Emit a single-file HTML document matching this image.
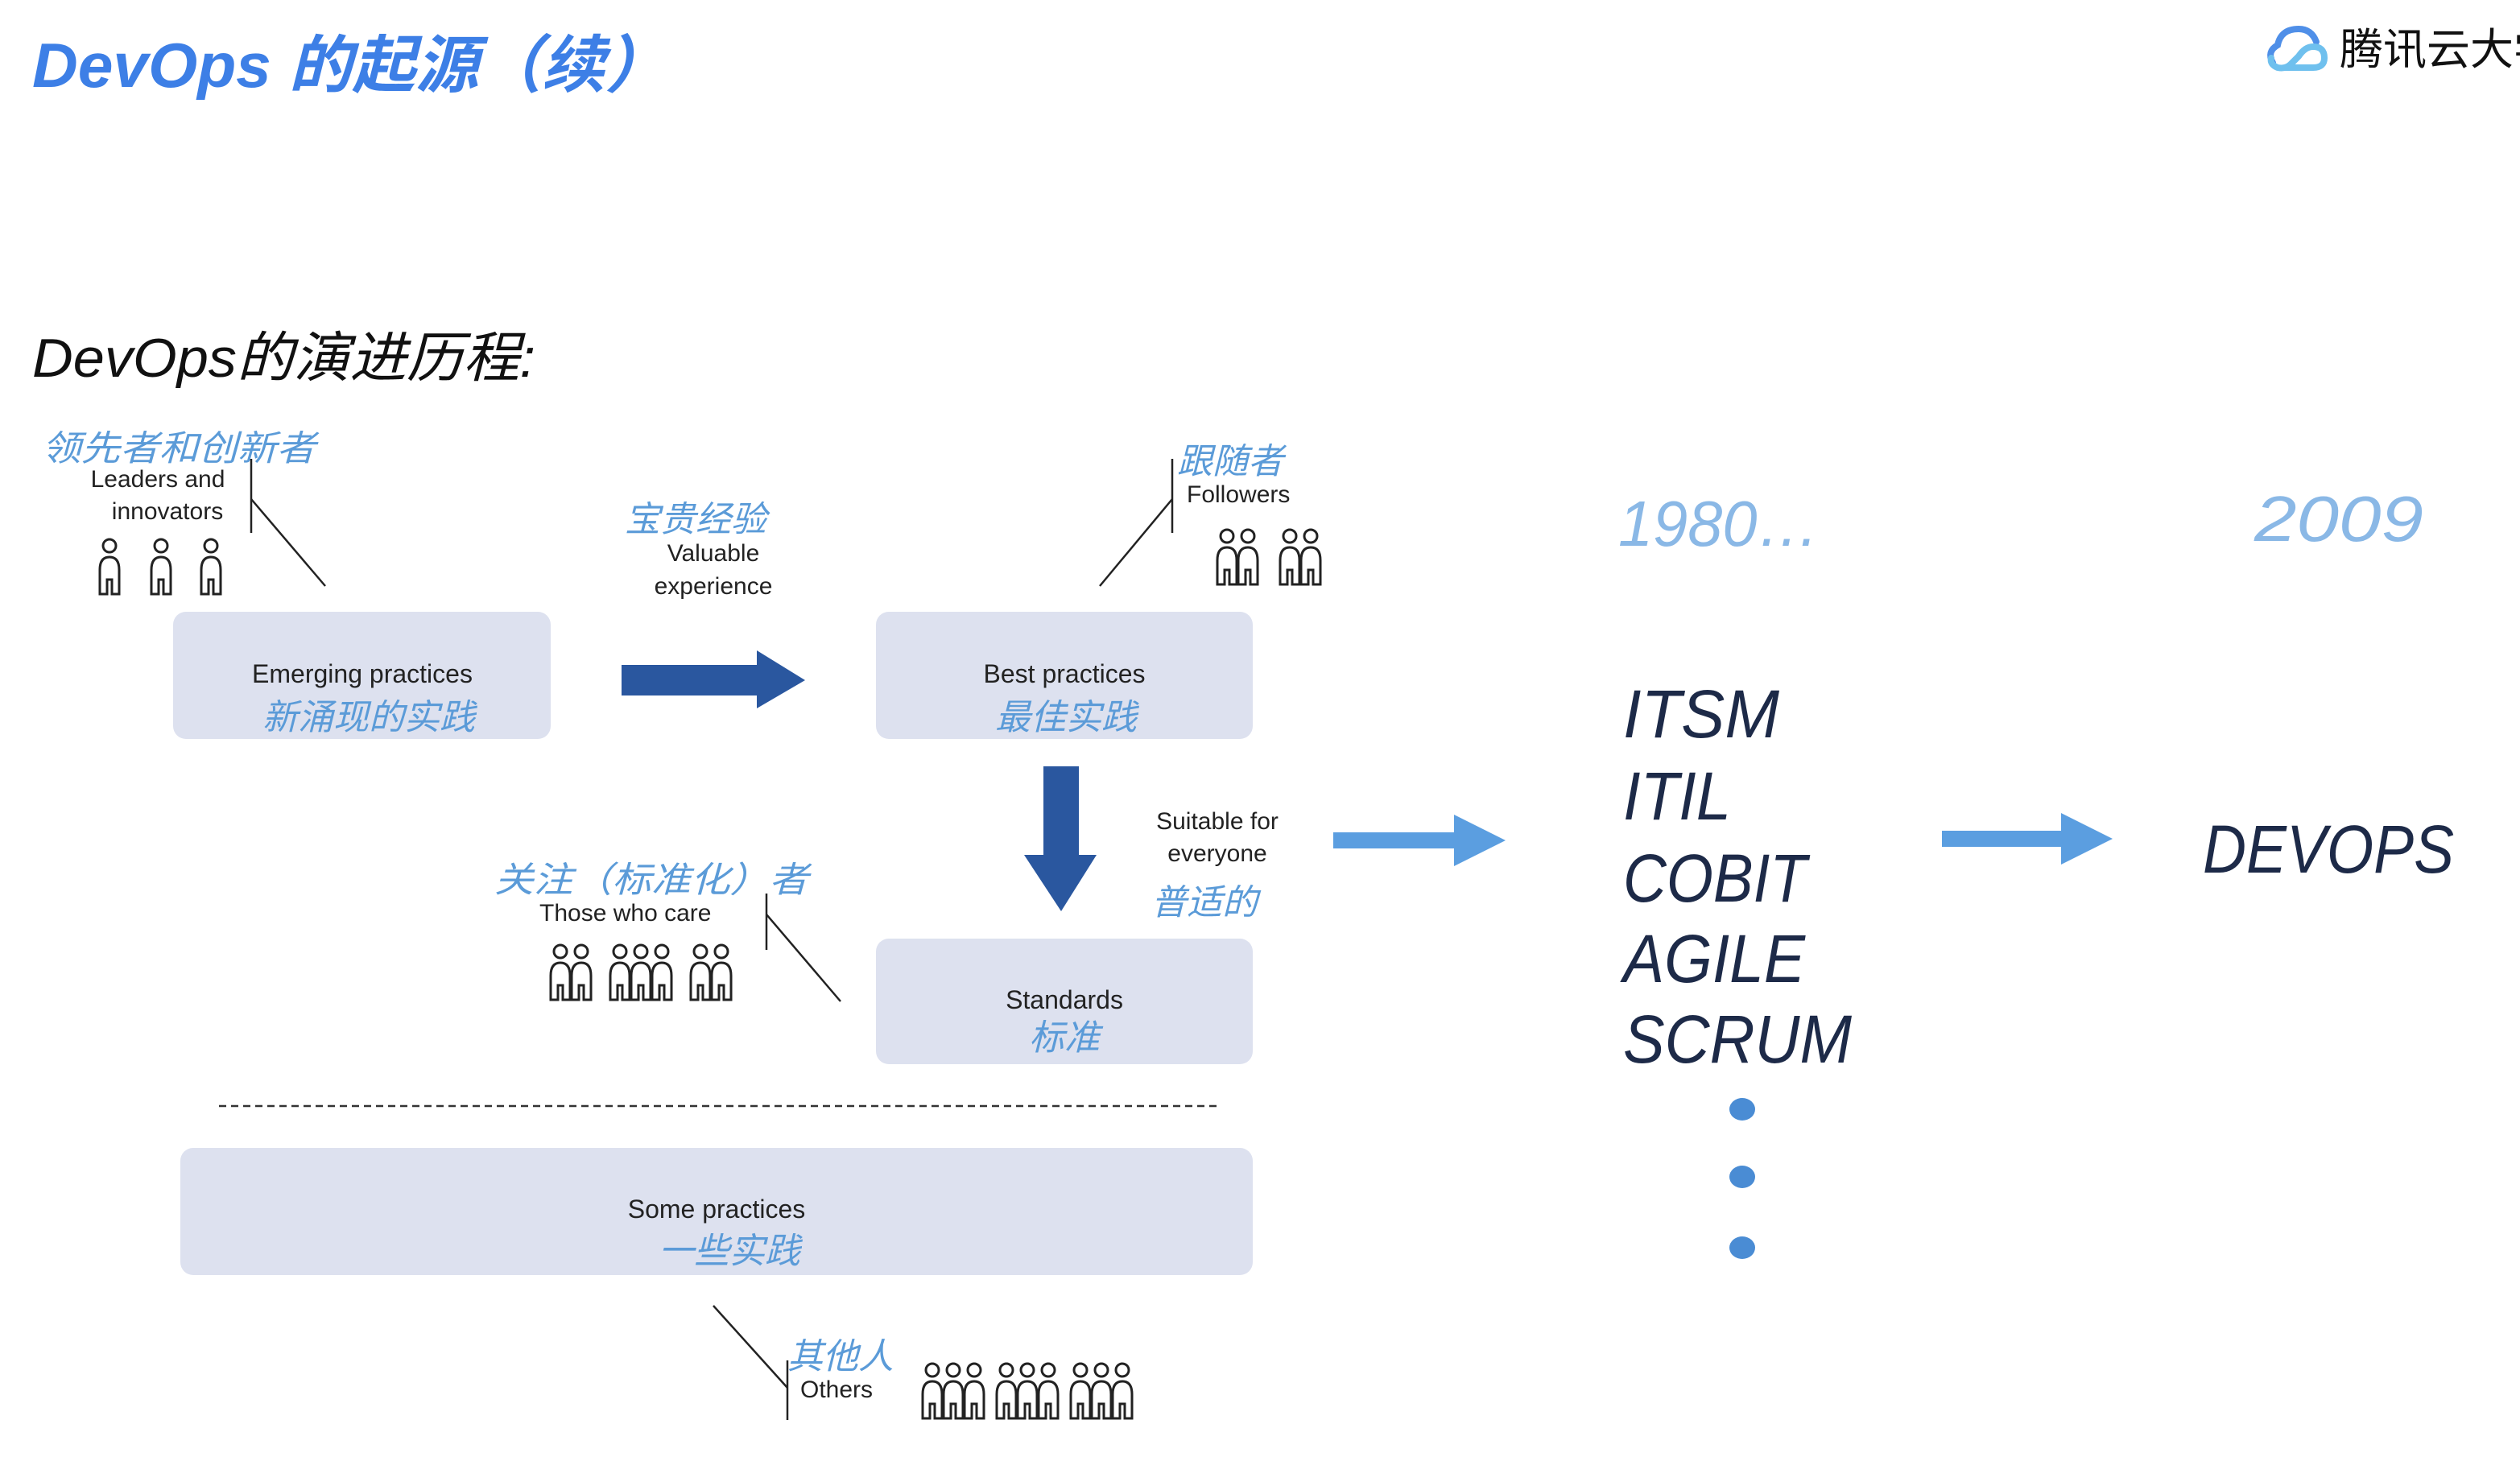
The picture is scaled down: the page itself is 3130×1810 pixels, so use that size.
<!DOCTYPE html>
<html><head><meta charset="utf-8"><style>
html,body{margin:0;padding:0;background:#fff;}
svg{display:block}
.cn{font-family:"Liberation Sans","Noto Sans CJK SC",sans-serif;}
</style></head><body>
<svg width="3130" height="1810" viewBox="0 0 3130 1810" xmlns="http://www.w3.org/2000/svg" class="cn">
<defs>
<g id="p"><circle cx="20" cy="10" r="8" fill="#fff" stroke="#222" stroke-width="3"/><path d="M8,70 V40 Q8,24 20,24 Q32,24 32,40 V70 H23 V52 H17 V70 Z" fill="#fff" stroke="#222" stroke-width="3"/></g>
</defs>
<rect width="3130" height="1810" fill="#fff"/>
<text x="40" y="108" font-size="78" font-weight="bold" font-style="italic" fill="#3d7fe6" textLength="790" lengthAdjust="spacingAndGlyphs">DevOps 的起源（续）</text>
<g transform="translate(2815,30)">
<path d="M8,48 Q0,34 14,26 Q18,6 40,6 Q56,6 62,22" fill="none" stroke="#4f8fe8" stroke-width="8" stroke-linecap="round"/>
<path d="M22,54 L58,54 Q72,54 72,42 Q72,28 58,28 Q48,28 40,40 L30,50 Q24,56 14,54 Q4,50 6,42" fill="none" stroke="#6fc0ee" stroke-width="8" stroke-linecap="round"/>
</g>
<text x="2906" y="80" font-size="54" fill="#111">腾讯云大学</text>
<text x="40" y="468" font-size="68" font-style="italic" fill="#111" textLength="625" lengthAdjust="spacingAndGlyphs">DevOps的演进历程:</text>

<g fill="#dde1ef">
<rect x="215" y="760" width="469" height="158" rx="16"/>
<rect x="1088" y="760" width="468" height="158" rx="16"/>
<rect x="1088" y="1166" width="468" height="156" rx="16"/>
<rect x="224" y="1426" width="1332" height="158" rx="16"/>
</g>
<g font-size="32" fill="#222" text-anchor="middle">
<text x="450" y="848">Emerging practices</text>
<text x="1322" y="848">Best practices</text>
<text x="1322" y="1253">Standards</text>
<text x="890" y="1513">Some practices</text>
</g>
<g font-size="44" fill="#5b9bd8" text-anchor="middle" font-style="italic">
<text x="458" y="906">新涌现的实践</text>
<text x="1324" y="906">最佳实践</text>
<text x="1322" y="1304">标准</text>
<text x="906" y="1569">一些实践</text>
</g>
<line x1="272" y1="1374" x2="1512" y2="1374" stroke="#333" stroke-width="2.5" stroke-dasharray="9,6"/>

<path d="M772,826 H940 V808 L1000,845 L940,880 V864 H772 Z" fill="#2a579f"/>
<path d="M1296,952 H1340 V1062 H1362 L1318,1132 L1272,1062 H1296 Z" fill="#2a579f"/>
<path d="M1656,1034 H1806 V1012 L1870,1044 L1806,1076 V1054 H1656 Z" fill="#5b9ee0"/>
<path d="M2412,1032 H2560 V1010 L2624,1042 L2560,1074 V1052 H2412 Z" fill="#5b9ee0"/>

<g font-size="44" fill="#5b9bd8" font-style="italic">
<text x="52" y="572" textLength="340" lengthAdjust="spacingAndGlyphs">领先者和创新者</text>
<text x="776" y="660">宝贵经验</text>
<text x="1462" y="588">跟随者</text>
<text x="614" y="1108" textLength="390" lengthAdjust="spacingAndGlyphs">关注（标准化）者</text>
<text x="1430" y="1136">普适的</text>
<text x="978" y="1700">其他人</text>
</g>
<g font-size="30" fill="#222">
<text x="196" y="605" text-anchor="middle">Leaders and</text>
<text x="208" y="645" text-anchor="middle">innovators</text>
<text x="886" y="697" text-anchor="middle">Valuable</text>
<text x="886" y="738" text-anchor="middle">experience</text>
<text x="1474" y="624">Followers</text>
<text x="1512" y="1030" text-anchor="middle">Suitable for</text>
<text x="1512" y="1070" text-anchor="middle">everyone</text>
<text x="670" y="1144">Those who care</text>
<text x="994" y="1736">Others</text>
</g>
<g stroke="#222" stroke-width="2.5" fill="none">
<line x1="312" y1="570" x2="312" y2="662"/><line x1="312" y1="620" x2="404" y2="728"/>
<line x1="1456" y1="570" x2="1456" y2="662"/><line x1="1456" y1="620" x2="1366" y2="728"/>
<line x1="952" y1="1110" x2="952" y2="1180"/><line x1="952" y1="1136" x2="1044" y2="1244"/>
<line x1="978" y1="1690" x2="978" y2="1764"/><line x1="978" y1="1724" x2="886" y2="1622"/>
</g>
<use href="#p" x="116" y="668"/><use href="#p" x="180" y="668"/><use href="#p" x="242" y="668"/>
<use href="#p" x="1504" y="656"/><use href="#p" x="1530" y="656"/><use href="#p" x="1582" y="656"/><use href="#p" x="1608" y="656"/>
<use href="#p" x="676" y="1172"/><use href="#p" x="702" y="1172"/><use href="#p" x="750" y="1172"/><use href="#p" x="776" y="1172"/><use href="#p" x="802" y="1172"/><use href="#p" x="850" y="1172"/><use href="#p" x="876" y="1172"/>
<use href="#p" x="1138" y="1692"/><use href="#p" x="1164" y="1692"/><use href="#p" x="1190" y="1692"/><use href="#p" x="1230" y="1692"/><use href="#p" x="1256" y="1692"/><use href="#p" x="1282" y="1692"/><use href="#p" x="1322" y="1692"/><use href="#p" x="1348" y="1692"/><use href="#p" x="1374" y="1692"/>

<g font-style="italic" fill="#8ab8e6" font-size="80" lengthAdjust="spacingAndGlyphs">
<text x="2010" y="678" textLength="250" lengthAdjust="spacingAndGlyphs">1980…</text>
<text x="2800" y="672" textLength="210" lengthAdjust="spacingAndGlyphs">2009</text>
</g>
<g font-style="italic" fill="#1d2a48" font-size="84">
<text x="2016" y="916" textLength="194" lengthAdjust="spacingAndGlyphs">ITSM</text>
<text x="2016" y="1018" textLength="134" lengthAdjust="spacingAndGlyphs">ITIL</text>
<text x="2016" y="1120" textLength="228" lengthAdjust="spacingAndGlyphs">COBIT</text>
<text x="2016" y="1220" textLength="226" lengthAdjust="spacingAndGlyphs">AGILE</text>
<text x="2016" y="1320" textLength="284" lengthAdjust="spacingAndGlyphs">SCRUM</text>
<text x="2736" y="1084" textLength="312" lengthAdjust="spacingAndGlyphs">DEVOPS</text>
</g>
<g fill="#4a8cd4">
<ellipse cx="2164" cy="1378" rx="16" ry="14"/>
<ellipse cx="2164" cy="1462" rx="16" ry="14"/>
<ellipse cx="2164" cy="1550" rx="16" ry="14"/>
</g>
</svg>
</body></html>
